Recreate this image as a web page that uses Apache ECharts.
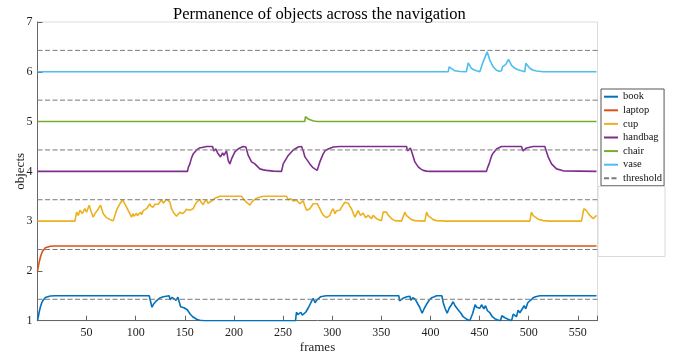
<!DOCTYPE html>
<html>
<head>
<meta charset="utf-8">
<script src="https://cdn.jsdelivr.net/npm/echarts@6/dist/echarts.min.js"></script>
<style>html,body{margin:0;padding:0;background:#fff;}#c{width:683px;height:358px;}</style>
</head>
<body>
<div id="c"></div>
<script>
// ---- data (frame, value) ----
const xTicks = [50, 100, 150, 200, 250, 300, 350, 400, 450, 500, 550];
const yTicks = [1, 2, 3, 4, 5, 6, 7];
const names = ['book', 'laptop', 'cup', 'handbag', 'chair', 'vase', 'threshold'];
const colors = ['#0072BD', '#D95319', '#EDB120', '#7E2F8E', '#77AC30', '#4DBEEE', '#7a7a7a'];
const thresholds = [1.43, 2.43, 3.43, 4.43, 5.43, 6.43];

const book = [[0,1.0],[1,1.1],[2,1.2],[3,1.28],[4,1.34],[5,1.39],[6,1.43],[8,1.465],[10,1.485],[13,1.495],[18,1.5],
 [113.7,1.5],[116.5,1.27],[118,1.33],[121,1.4],[124,1.45],[128,1.48],[131,1.49],[134,1.5],[135,1.42],[137,1.47],[139,1.49],[141,1.41],[143,1.47],[144.5,1.45],[145.6,1.28],[147.5,1.3],[149,1.26],[151,1.28],[152.5,1.22],[154.4,1.2],[155.5,1.13],[158,1.08],[160,1.05],[162,1.03],[165,1.01],[170,1.0],
 [262.6,1.0],[263.6,1.17],[265,1.12],[266.4,1.11],[268,1.17],[269.5,1.11],[271,1.12],[273,1.17],[276,1.27],[278.9,1.39],[280.6,1.45],[282.6,1.36],[284,1.41],[285.7,1.45],[288,1.48],[290.8,1.49],[294,1.5],
 [367.8,1.5],[368.5,1.4],[372,1.45],[376,1.48],[379,1.49],[380,1.41],[382,1.46],[383.2,1.47],[384.5,1.43],[386.4,1.39],[389,1.27],[391.5,1.15],[394,1.26],[396,1.33],[399,1.42],[401.1,1.46],[404,1.48],[406.2,1.5],[411.6,1.5],[413,1.36],[415,1.24],[417,1.15],[419,1.25],[421,1.31],[423.1,1.38],[425,1.3],[428.1,1.22],[431,1.15],[433.2,1.08],[436,1.04],[440,1.0],[441,1.05],[443,1.15],[445.4,1.32],[447,1.27],[448.5,1.3],[450.2,1.25],[452,1.32],[454.3,1.24],[456,1.3],[458,1.2],[460.4,1.16],[463,1.08],[465.5,1.04],[468,1.02],[471.3,1.0],[472.6,1.1],[474,1.08],[475.7,1.06],[479,1.03],[482.5,1.0],[484.2,1.13],[486,1.1],[487.5,1.08],[489.2,1.21],[491,1.16],[492.5,1.14],[495.3,1.3],[497,1.24],[499,1.36],[501,1.4],[504.5,1.46],[507,1.48],[511.3,1.5],[569,1.5]];

const laptop = [[0,2.0],[1,2.1],[2,2.2],[3,2.28],[4,2.34],[5,2.39],[6,2.43],[8,2.465],[10,2.485],[13,2.495],[18,2.5],[569,2.5]];

const cup = [[0,3],[38.1,3],[39.8,3.18],[41.5,3.115],[43.2,3.22],[45.5,3.15],[48.2,3.25],[49.9,3.18],[52.6,3.32],[54.5,3.2],[56.7,3.08],[58.5,3.15],[60.1,3.18],[62,3.25],[64.2,3.32],[66.9,3.15],[70.3,3.07],[74,3.03],[77.1,3.01],[80.5,3.22],[83.9,3.35],[86.6,3.43],[90.6,3.28],[94,3.15],[95.7,3.08],[97.4,3.15],[98.3,3.1],[99.1,3.13],[100.8,3.16],[101.6,3.11],[102.5,3.14],[104.9,3.18],[106,3.13],[107.6,3.21],[109,3.18],[111,3.25],[112.7,3.22],[114.4,3.35],[115.5,3.3],[117.8,3.28],[119.5,3.34],[121,3.3],[122.9,3.34],[124.6,3.38],[126.3,3.43],[128,3.36],[129.7,3.39],[131.4,3.44],[133.1,3.45],[134.8,3.38],[136.4,3.25],[138.2,3.18],[139.8,3.14],[141.5,3.1],[143.2,3.08],[144.9,3.18],[146.6,3.21],[147.7,3.15],[150,3.19],[151.5,3.24],[153.4,3.28],[155,3.22],[156.8,3.25],[158.5,3.25],[160.2,3.32],[162,3.38],[165.3,3.44],[166.5,3.38],[168.7,3.33],[170,3.39],[172.1,3.42],[173.5,3.36],[175.5,3.38],[178.2,3.42],[180.6,3.46],[182.3,3.48],[185.6,3.5],[207.7,3.5],[209.4,3.45],[212,3.39],[216.2,3.32],[218,3.38],[219.6,3.42],[222,3.45],[224.6,3.47],[229.7,3.5],[253.5,3.5],[255.2,3.43],[256.3,3.46],[257.5,3.45],[259,3.42],[260.3,3.405],[263.7,3.42],[265.5,3.38],[267.1,3.35],[268.8,3.39],[270.5,3.405],[272.2,3.3],[273.9,3.22],[275.5,3.18],[277.2,3.25],[280.6,3.35],[282.3,3.32],[284.7,3.35],[286,3.3],[287.4,3.25],[289,3.18],[290.8,3.12],[292.5,3.1],[294.2,3.07],[296,3.09],
 [297.6,3.115],[299.3,3.2],[301,3.25],[302.7,3.15],[304.4,3.21],[306.1,3.18],[307.8,3.22],[309.5,3.25],[311.2,3.33],[312.9,3.38],[314.6,3.35],[316.3,3.36],[317.9,3.3],[319.6,3.25],[321.3,3.21],[323,3.08],[324.7,3.14],[326.4,3.21],[327.6,3.16],[328.8,3.115],[330.2,3.13],[331.5,3.16],[333.9,3.07],[335.2,3.1],[336.6,3.115],[338.3,3.08],[340,3.05],[341.7,3.115],[343.4,3.08],[345.1,3.05],[347.6,3.03],[350.1,3.01],[351.8,3.18],[353.5,3.17],[355.2,3.18],[356.9,3.12],[358.6,3.08],[361,3.04],[363.7,3.01],[370.5,3.0],[373.9,3.18],[375.6,3.11],[377.3,3.07],[380.7,3.03],[384.1,3.01],[394.3,3.0],[396,3.18],[397.6,3.11],[399.3,3.07],[402.7,3.03],[406.1,3.01],[416.3,3.0],[501.1,3.0],[502.8,3.18],[504.5,3.11],[506.2,3.08],[509.6,3.04],[514.7,3.01],[521.5,3.0],[553.7,3.0],[556.1,3.25],[557.5,3.22],[558.8,3.21],[560.5,3.16],[562.2,3.115],[564,3.08],[565.6,3.05],[567.3,3.08],[569,3.115]];

const handbag = [[0,4],[152.7,4],[153.5,4.08],[155.1,4.15],[156.8,4.27],[158.5,4.35],[161.9,4.43],[165,4.47],[167,4.49],[172.1,4.5],[178.2,4.5],[179.5,4.41],[181.6,4.45],[183.3,4.37],[185,4.41],[186.3,4.29],[188.4,4.37],[189.7,4.32],[192.4,4.41],[194.1,4.22],[195.8,4.15],[197.5,4.25],[200.9,4.39],[204.3,4.45],[207,4.48],[209.4,4.5],[212.1,4.49],[214.5,4.32],[217.9,4.19],[221.2,4.15],[222.9,4.12],[226.3,4.05],[230,4.03],[233.1,4.02],[240,4.005],[248.4,4.0],[250.1,4.15],[251.8,4.19],[255.2,4.32],[260.3,4.43],[265.4,4.49],[268.8,4.5],[270.5,4.41],[272.2,4.29],[273.9,4.25],[277.2,4.15],[280,4.08],[282.3,4.05],[284.7,4.02],[287.4,4.19],[290.8,4.35],[293,4.42],[295.9,4.45],[301,4.49],[307.8,4.5],[375.6,4.5],[376.6,4.41],[378.3,4.45],[379.5,4.47],[381,4.39],[384.1,4.19],[387.5,4.09],[390,4.05],[392.6,4.02],[396,4.005],[399.3,4.0],[457,4.0],[458,4.07],[459.7,4.15],[461.5,4.27],[463.1,4.35],[467.2,4.45],[472.3,4.5],[492.6,4.5],[494.3,4.41],[497.7,4.47],[504.5,4.5],[516.4,4.5],[518,4.4],[519.8,4.29],[523.2,4.15],[528.3,4.05],[535.1,4.01],[569,4.0]];

const chair = [[0,5],[272,5],[272.8,5.1],[274,5.07],[276,5.045],[278,5.03],[281,5.01],[285,5.0],[569,5]];

const vase = [[0,6],[418,6],[419,6.1],[421,6.06],[424.8,6.02],[430,6.005],[436.5,6.0],[438.4,6.18],[441.7,6.07],[444,6.04],[446.8,6.02],[450.2,6.0],[453.6,6.2],[457.7,6.4],[460.4,6.235],[463.8,6.1],[467.2,6.03],[470,6.01],[472.3,6.02],[473.3,6.1],[475,6.09],[476.7,6.15],[479.4,6.25],[482.5,6.13],[485.9,6.07],[489,6.04],[492.6,6.02],[496,6.0],[497,6.17],[501.1,6.07],[504,6.035],[507.9,6.015],[514.7,6.0],[569,6]];

const seriesData = [book, laptop, cup, handbag, chair, vase];

// ---- chart ----
const FONT = 'Liberation Serif';
const chart = echarts.init(document.getElementById('c'), null, {renderer: 'canvas'});

const series = seriesData.map((d, i) => ({
  name: names[i], type: 'line', data: d, symbol: 'none', showSymbol: false,
  lineStyle: {width: 1.6, color: colors[i]}, itemStyle: {color: colors[i]},
  z: 3, animation: false
}));
thresholds.forEach(t => {
  series.push({
    name: 'threshold', type: 'line', data: [[0, t], [570, t]], symbol: 'none', showSymbol: false,
    lineStyle: {width: 1, color: colors[6], type: [5, 2.5]}, itemStyle: {color: colors[6]},
    z: 4, animation: false, silent: true
  });
});

chart.setOption({
  animation: false,
  backgroundColor: '#fff',
  title: {
    text: 'Permanence of objects across the navigation',
    left: 168, top: 1,
    textStyle: {fontFamily: FONT, fontSize: 16.5, fontWeight: 'normal', color: '#000'}
  },
  grid: {left: 37.5, right: 85.5, top: 22, bottom: 37.3, containLabel: false, outerBoundsMode: 'none',
    show: true, borderColor: '#dcdcdc', borderWidth: 1, backgroundColor: 'transparent'},
  xAxis: {
    type: 'value', min: 0, max: 570, interval: 50,
    name: 'frames', nameLocation: 'middle', nameGap: 20, nameMoveOverlap: false,
    nameTextStyle: {fontFamily: FONT, fontSize: 13, color: '#222'},
    axisLine: {show: true, onZero: false, lineStyle: {color: '#666', width: 1}},
    axisTick: {show: true, inside: true, length: 5, lineStyle: {color: '#666'}},
    axisLabel: {fontFamily: FONT, fontSize: 12, color: '#222', margin: 6,
      formatter: v => (xTicks.indexOf(v) >= 0 ? String(v) : '')},
    splitLine: {show: false}
  },
  yAxis: {
    type: 'value', min: 1, max: 7, interval: 1,
    name: 'objects', nameLocation: 'middle', nameGap: 10, nameRotate: 90, nameMoveOverlap: false,
    nameTextStyle: {fontFamily: FONT, fontSize: 13, color: '#222'},
    axisLine: {show: true, lineStyle: {color: '#666', width: 1}},
    axisTick: {show: true, inside: true, length: 5, lineStyle: {color: '#666'}},
    axisLabel: {fontFamily: FONT, fontSize: 12, color: '#222', margin: 5,
      formatter: v => (yTicks.indexOf(v) >= 0 ? String(v) : '')},
    splitLine: {show: false}
  },
  legend: {
    data: names, orient: 'vertical', left: 601, top: 89,
    itemWidth: 14, itemHeight: 12, itemGap: 1.6,
    padding: [1.7, 2, 1.5, 2],
    backgroundColor: '#fff', borderColor: '#555', borderWidth: 1,
    itemStyle: {opacity: 0, borderWidth: 0},
    textStyle: {fontFamily: FONT, fontSize: 10.5, color: '#111', lineHeight: 12},
    selectedMode: false
  },
  graphic: [{
    type: 'rect', left: 597.5, top: 186, z: 100,
    shape: {width: 67, height: 70},
    style: {fill: '#fff', stroke: '#d9d9d9', lineWidth: 1}
  }],
  series: series
});
</script>
</body>
</html>
